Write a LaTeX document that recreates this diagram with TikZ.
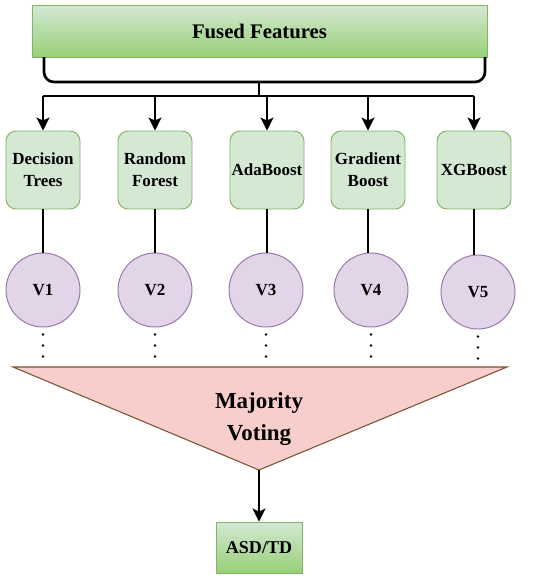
\documentclass[tikz,border=0pt]{standalone}
\usepackage{fontspec}
\setmainfont{Liberation Serif}
\usetikzlibrary{arrows.meta,positioning,calc}
\definecolor{LeafGreen}{HTML}{D5E8D4}
\definecolor{DeepGreen}{HTML}{97D077}
\definecolor{EdgeGreen}{HTML}{82B366}
\definecolor{VoteLilac}{HTML}{E1D5E7}
\definecolor{EdgeLilac}{HTML}{9673A6}
\definecolor{PollPink}{HTML}{F8CECC}
\definecolor{EdgeBrown}{HTML}{7A5230}

\begin{document}
\begin{tikzpicture}[
    x=0.03cm, y=-0.03cm,
    font=\bfseries,
    gradbox/.style={draw=EdgeGreen, line width=0.8pt, top color=LeafGreen, bottom color=DeepGreen, align=center},
    clfbox/.style={draw=EdgeGreen, line width=0.8pt, fill=LeafGreen, rounded corners=0.3cm, minimum width=2.22cm, minimum height=2.34cm, align=center, inner sep=1pt, font=\bfseries\fontsize{14.5}{18.5}\selectfont},
    votecirc/.style={circle, draw=EdgeLilac, line width=0.8pt, fill=VoteLilac, minimum size=2.22cm, font=\bfseries\fontsize{14.5}{17}\selectfont},
    link/.style={line width=2.3pt, black},
    dotlink/.style={line width=2.4pt, line cap=round, dash pattern=on 0pt off 9.4pt},
    tip/.style={-{Stealth[length=11pt,width=11pt,inset=2.5pt]}}
]

  \useasboundingbox (0,0) rectangle (550,584);

  % =========================================================================
  % TOPO: FUSED FEATURES
  % =========================================================================
  \node[gradbox, minimum width=13.65cm, minimum height=1.56cm, font=\bfseries\fontsize{17.7}{21}\selectfont] (fused) at (259.5,31) {Fused Features};

  \coordinate (brL) at (44,57);
  \coordinate (brR) at (485,57);
  \coordinate (stem) at (259,82);
  \coordinate (bus) at (259,96);
  \draw[link, rounded corners=0.3cm] (brL) -- (44,82) -- (485,82) -- (brR);
  \draw[link] (stem) -- (bus);
  \draw[link] (43,96) -- (474,96);

  % =========================================================================
  % CLASSIFICADORES
  % =========================================================================
  \node[clfbox] (c1) at (43,170) {Decision\\Trees};
  \node[clfbox] (c2) at (155,170) {Random\\Forest};
  \node[clfbox] (c3) at (267,170) {AdaBoost};
  \node[clfbox] (c4) at (368,170) {Gradient\\Boost};
  \node[clfbox] (c5) at (474,170) {XGBoost};

  % =========================================================================
  % VOTOS
  % =========================================================================
  \node[votecirc] (v1) at (43,290) {V1};
  \node[votecirc] (v2) at (155,290) {V2};
  \node[votecirc] (v3) at (266,290) {V3};
  \node[votecirc] (v4) at (371,290) {V4};
  \node[votecirc] (v5) at (478,292) {V5};

  \foreach \i in {1,...,5} {
    \draw[link, tip] (c\i.north |- bus) -- (c\i.north);
    \draw[link] (c\i.south) -- (c\i.south |- v\i.north);
  }

  % =========================================================================
  % MAJORITY VOTING
  % =========================================================================
  \coordinate (triL) at (13,367);
  \coordinate (triR) at (507,367);
  \coordinate (apex) at (259,470);
  \draw[draw=EdgeBrown, line width=0.9pt, fill=PollPink] (triL) -- (triR) -- (apex) -- cycle;
  \node[align=center, font=\bfseries\fontsize{19.6}{27}\selectfont] (vote) at (259,419) {Majority\\Voting};

  \foreach \i in {1,...,5} {
    \draw[dotlink] ($(v\i.south)+(0,7)$) -- (v\i.south |- triL);
  }

  % =========================================================================
  % SAIDA
  % =========================================================================
  \node[gradbox, minimum width=2.58cm, minimum height=1.53cm, font=\bfseries\fontsize{15.4}{18}\selectfont] (out) at (259,547.5) {ASD/TD};
  \draw[link, tip] (apex) -- (out.north);

\end{tikzpicture}
\end{document}
